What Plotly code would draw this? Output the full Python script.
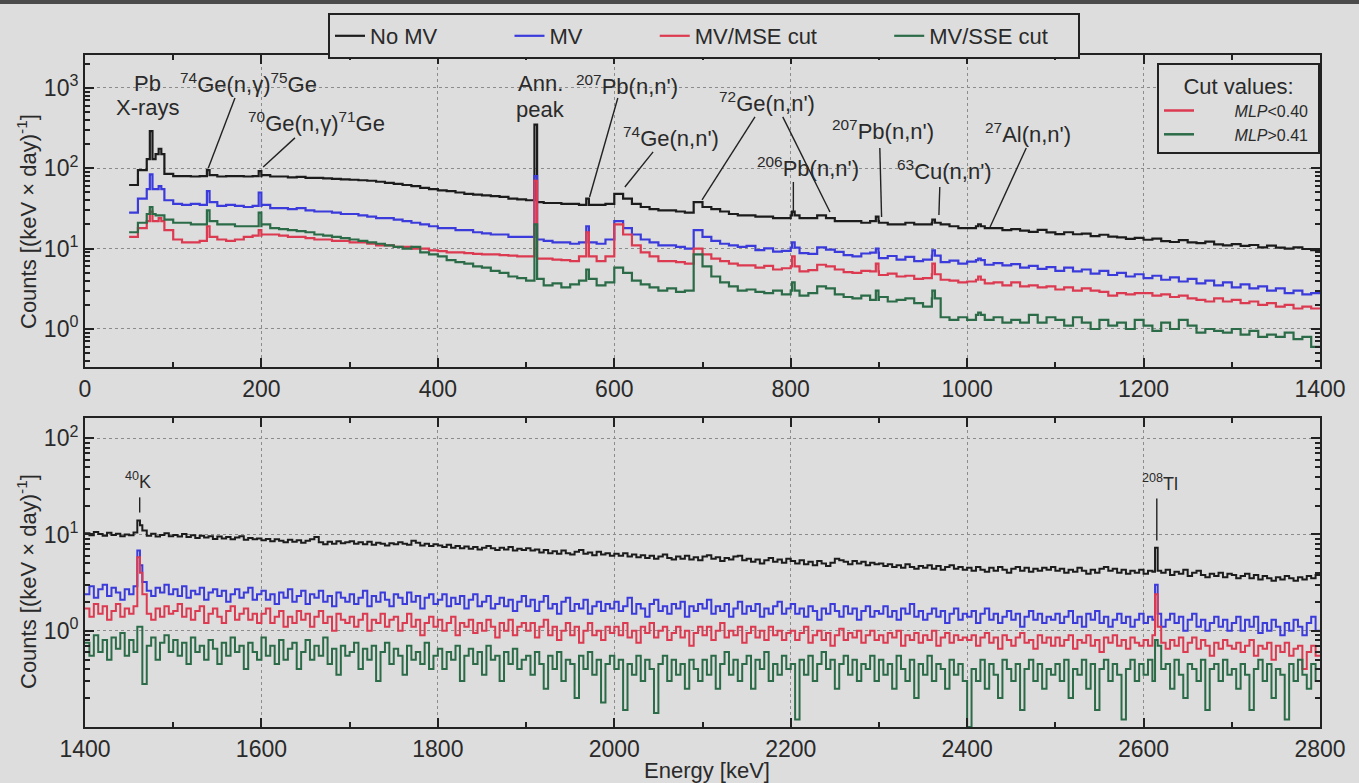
import math
import plotly.graph_objects as go

W, H = 1359, 783

# ---------------- spectrum data: counts / (keV x day) ----------------
TOP_BIN_KEV = 10
TOP_START_KEV = 50      # upper panel: 10 keV bins, 50 ... 1400 keV
BOT_BIN_KEV = 5
BOT_START_KEV = 1400    # lower panel: 5 keV bins, 1400 ... 2800 keV

SERIES_NAMES = ["No MV", "MV", "MV/MSE cut", "MV/SSE cut"]

top_no_mv = [
    62, 95, 130, 150, 85, 80, 80, 79, 80, 82,
    79, 80, 80, 79, 80, 82, 79, 79, 77, 78,
    76, 76, 75, 74, 73, 72, 71, 70, 68, 66,
    64, 62, 60, 57, 55, 53, 52, 50, 48, 47,
    46, 45, 44, 42, 41, 40, 38, 37, 37, 36,
    36, 35, 35, 35, 36, 48, 42, 36, 33, 31,
    30, 30, 29, 28, 38, 33, 31, 29, 27, 26,
    26, 25, 25, 24, 24, 26, 24, 24, 26, 24,
    22, 22, 22, 21, 22, 21, 20, 20, 21, 20,
    20, 21, 20, 19, 18, 18, 19, 18, 18, 17,
    17.5, 16.8, 16.2, 17.1, 15.9, 15.2, 16.0, 15.1, 15.4, 14.3,
    14.9, 14.1, 13.8, 13.2, 13.6, 12.9, 13.3, 12.4, 12.1, 12.8,
    12.0, 11.7, 12.2, 11.3, 11.0, 11.4, 10.8, 11.1, 10.4, 10.9,
    10.3, 10.0, 10.4, 9.9, 9.6,
]
top_mv = [
    28, 42, 55, 55, 40, 36, 35, 36, 35, 38,
    34, 35, 34, 33, 34, 35, 32, 32, 31, 32,
    30, 29, 29, 28, 27, 27, 26, 25, 24, 24,
    23, 22, 21, 20, 19, 18, 18, 17, 17, 16,
    15.5, 15, 15, 14, 14, 14, 13, 12.5, 12, 12,
    11.5, 12, 12, 11.5, 13, 22, 18, 15, 13, 12,
    11, 11, 10.5, 10, 17, 14, 12.5, 11.5, 11, 10.5,
    10.8, 9.6, 10.1, 9.2, 9.4, 10.3, 8.8, 8.6, 10.4, 9.7,
    9.1, 8.3, 8.0, 8.7, 8.9, 7.6, 8.1, 7.3, 7.9, 7.0,
    7.3, 8.2, 6.8, 7.1, 6.5, 6.9, 7.2, 6.3, 6.6, 6.2,
    6.4, 5.8, 6.1, 5.6, 5.9, 5.3, 5.8, 5.2, 5.5, 4.9,
    5.3, 4.7, 5.0, 4.5, 4.8, 4.3, 4.6, 4.1, 4.4, 3.9,
    4.2, 3.7, 4.0, 3.5, 3.8, 3.3, 3.6, 3.2, 3.4, 3.0,
    3.2, 2.8, 3.0, 2.7, 2.8,
]
top_mse = [
    14, 18, 22, 22, 17, 13, 12, 12, 12.5, 14,
    13, 12.5, 13, 14, 14.5, 15, 15, 14.5, 14, 14,
    13.5, 13, 13, 12.5, 12.5, 12, 12, 11.5, 11, 11,
    10.5, 10.5, 10, 10, 9.5, 9.3, 9, 9, 8.8, 8.6,
    8.5, 8.5, 8.3, 8.2, 8, 8, 7.5, 7.5, 7.3, 7.2,
    7, 8, 8, 7, 8, 20, 15, 11, 9, 8,
    7, 7, 6.8, 6.5, 10, 8.5, 7.5, 7, 6.5, 6.2,
    6.2, 5.8, 6.1, 5.5, 5.7, 6.0, 5.2, 5.4, 6.3, 6.0,
    5.5, 5.1, 5.0, 5.3, 5.2, 4.7, 4.9, 4.5, 4.6, 4.2,
    4.3, 4.8, 4.1, 4.0, 3.8, 3.9, 4.1, 3.7, 3.8, 3.5,
    3.8, 3.4, 3.5, 3.3, 3.4, 3.1, 3.3, 3.0, 3.2, 3.0,
    2.9, 2.6, 2.8, 2.7, 2.8, 2.8, 2.6, 2.7, 2.5, 2.6,
    2.4, 2.3, 2.2, 2.4, 2.2, 2.3, 2.1, 2.2, 2.0, 2.1,
    1.9, 2.0, 1.8, 1.9, 1.8,
]
top_sse = [
    16, 21, 27, 26, 23, 21, 21, 20, 20, 22,
    20, 20, 19, 19, 19, 20, 18, 17.5, 17, 16.5,
    16, 15, 14.5, 14, 13.5, 13, 12.5, 12, 11.5, 11,
    10.5, 10, 10.5, 9, 8.5, 8, 7.2, 6.8, 6.5, 6,
    5.8, 5.3, 5, 4.5, 4.3, 4, 4.2, 3.5, 3.7, 3.3,
    3.6, 4.0, 4.2, 3.5, 3.8, 5.8, 5, 4, 3.6, 3.3,
    3, 3.2, 2.9, 3, 8.5, 6, 4.5, 3.8, 3.4, 3,
    3.1, 2.9, 2.8, 3, 2.7, 3, 2.6, 2.8, 3.4, 3.2,
    2.7, 2.5, 2.4, 2.6, 2.3, 2.5, 2.2, 2.3, 2.4, 2.1,
    1.9, 2.4, 1.4, 1.3, 1.4, 1.3, 1.5, 1.3, 1.4, 1.2,
    1.3, 1.2, 1.5, 1.2, 1.4, 1.3, 1.1, 1.4, 1.2, 1.0,
    1.3, 1.1, 1.2, 1.0, 1.3, 1.1, 0.95, 1.2, 1.0, 1.3,
    1.1, 0.9, 1.0, 0.95, 0.9, 1.0, 0.85, 0.95, 0.8, 0.85,
    0.8, 0.9, 0.75, 0.8, 0.6,
]

# narrow gamma / x-ray lines in the upper panel (keV) and their heights
TOP_PEAK_KEV = [75, 85, 139.7, 198.4, 511, 569.7, 803, 898, 962, 1014]
top_peak_no_mv = [290, 175, 95, 92, 350, 42, 29, 25, 23, 20]
top_peak_mv = [84, 60, 52, 50, 80, 19, 12, 10, 9.5, 7.5]
top_peak_mse = [29, 24, 19, 17, 70, 16, 8, 6.5, 6.5, 4.5]
top_peak_sse = [33, 26, 30, 28, 20, 5.5, 3.8, 3.0, 3.0, 1.6]
TOP_PEAK_WIDTH_KEV = 3

# lower panel, one row = 100 keV
bot_no_mv = [
    10.3, 9.8, 10.6, 10.1, 9.7, 10.4, 9.9, 10.2, 9.6, 10.0, 9.8, 10.5, 12.5, 11.0, 9.7, 10.2, 9.5, 9.9, 10.3, 9.6,
    9.9, 9.5, 10.1, 9.4, 9.8, 9.2, 9.7, 9.3, 9.6, 9.0, 9.5, 9.1, 9.4, 8.9, 9.3, 9.6, 8.8, 9.2, 8.9, 9.1,
    8.7, 9.0, 8.5, 8.9, 8.6, 8.3, 8.8, 8.4, 8.7, 8.2, 8.6, 8.9, 9.4, 8.3, 7.9, 8.4, 8.0, 8.5, 8.1, 8.3,
    8.5, 8.0, 8.3, 7.9, 8.4, 7.8, 8.2, 8.0, 7.7, 8.1, 7.9, 8.3, 8.0, 7.8, 8.6, 8.2, 7.7, 8.0, 7.6, 7.9,
    7.7, 7.4, 7.8, 7.3, 7.6, 7.2, 7.5, 7.1, 7.4, 7.0, 7.3, 7.6, 7.2, 6.9, 7.3, 7.0, 7.4, 6.8, 7.1, 6.9,
    7.2, 6.8, 7.0, 6.5, 6.9, 6.4, 6.7, 6.3, 6.8, 6.4, 6.2, 6.6, 6.9, 6.3, 6.5, 6.1, 6.6, 6.2, 6.4, 6.0,
    6.3, 6.0, 6.4, 5.9, 6.2, 5.8, 6.1, 5.7, 6.0, 5.6, 5.9, 6.2, 5.7, 5.5, 5.9, 5.6, 6.0, 5.5, 5.8, 5.4,
    5.9, 6.1, 5.6, 5.8, 5.3, 5.7, 5.5, 5.9, 6.0, 5.4, 5.6, 5.2, 5.5, 5.0, 5.4, 5.7, 5.2, 5.5, 5.1, 5.6,
    5.3, 5.0, 5.4, 4.9, 5.2, 4.8, 5.3, 5.0, 4.7, 5.1, 5.6, 5.4, 5.2, 4.9, 5.3, 5.0, 5.2, 4.8, 5.1, 4.9,
    5.0, 4.7, 4.9, 4.6, 4.8, 4.5, 4.9, 4.6, 4.4, 4.7, 4.5, 4.8, 4.4, 4.7, 4.3, 4.6, 4.8, 4.4, 4.6, 4.3,
    4.5, 4.2, 4.6, 4.3, 4.1, 4.5, 4.2, 4.6, 4.3, 4.0, 4.4, 4.6, 4.2, 4.5, 4.1, 4.4, 4.2, 4.5, 4.3, 4.6,
    4.2, 4.4, 4.0, 4.3, 4.1, 4.5, 4.2, 3.9, 4.3, 4.0, 4.4, 4.6, 4.2, 4.4, 4.0, 4.3, 3.9, 4.2, 4.0, 4.3,
    3.9, 4.2, 4.1, 4.2, 4.0, 4.3, 3.8, 4.1, 3.9, 4.3, 3.7, 4.0, 4.2, 3.8, 3.6, 3.9, 3.7, 4.0, 3.6, 3.9,
    3.8, 3.5, 3.7, 3.9, 3.5, 3.8, 3.4, 3.7, 3.5, 3.3, 3.6, 3.4, 3.7, 3.5, 3.3, 3.6, 3.4, 3.7, 3.5, 3.8,
]
bot_mv = [
    2.4, 2.9, 2.2, 2.7, 3.0, 2.3, 2.8, 2.5, 2.1, 2.7, 2.4, 2.9, 4.8, 3.2, 2.6, 2.3, 2.8, 2.5, 3.0, 2.4,
    2.7, 2.3, 2.9, 2.2, 2.6, 2.4, 2.8, 2.1, 2.5, 2.7, 2.3, 2.6, 2.0, 2.4, 2.7, 2.2, 2.5, 2.8, 2.1, 2.4,
    2.6, 2.1, 2.4, 1.9, 2.5, 2.2, 2.7, 2.0, 2.3, 2.6, 1.9, 2.4, 2.2, 2.6, 2.0, 2.3, 1.8, 2.5, 2.2, 2.0,
    2.4, 1.9, 2.2, 2.6, 1.8, 2.3, 2.0, 2.5, 2.1, 1.8, 2.4, 2.2, 1.9, 2.5, 2.0, 2.3, 1.7, 2.2, 2.4, 1.9,
    2.1, 2.4, 1.8, 2.2, 1.9, 2.3, 1.7, 2.1, 2.4, 1.8, 2.0, 2.3, 1.7, 1.9, 2.2, 1.8, 2.1, 1.6, 2.0, 2.3,
    1.8, 2.1, 1.6, 2.0, 2.3, 1.7, 1.9, 1.5, 2.0, 2.2, 1.6, 1.9, 1.7, 2.1, 1.5, 1.8, 2.0, 1.6, 1.9, 1.7,
    2.0, 1.6, 1.8, 2.2, 1.5, 1.9, 1.7, 1.4, 1.9, 2.1, 1.6, 1.8, 1.5, 1.9, 1.7, 2.0, 1.4, 1.8, 1.6, 1.9,
    1.7, 2.1, 1.5, 1.8, 1.6, 1.9, 1.4, 1.7, 2.0, 1.5, 1.8, 1.6, 1.9, 1.4, 1.7, 1.5, 1.8, 2.0, 1.5, 1.7,
    1.9, 1.5, 1.7, 1.4, 1.8, 1.6, 1.3, 1.7, 1.5, 1.9, 1.6, 1.4, 1.8, 1.5, 1.7, 1.3, 1.6, 1.8, 1.4, 1.6,
    1.5, 1.8, 1.4, 1.6, 1.3, 1.7, 1.5, 1.9, 1.4, 1.6, 1.3, 1.5, 1.7, 1.4, 1.6, 1.2, 1.5, 1.7, 1.3, 1.5,
    1.4, 1.6, 1.2, 1.5, 1.7, 1.3, 1.5, 1.2, 1.4, 1.6, 1.3, 1.5, 1.1, 1.4, 1.6, 1.3, 1.5, 1.2, 1.4, 1.3,
    1.5, 1.2, 1.4, 1.6, 1.2, 1.4, 1.1, 1.5, 1.3, 1.6, 1.2, 1.4, 1.1, 1.3, 1.5, 1.2, 1.4, 1.1, 1.3, 1.5,
    1.2, 1.4, 1.3, 1.5, 1.1, 1.3, 1.5, 1.2, 1.4, 1.0, 1.3, 1.5, 1.1, 1.3, 1.0, 1.2, 1.4, 1.1, 1.3, 1.0,
    1.2, 1.4, 1.0, 1.3, 1.1, 1.4, 0.95, 1.2, 1.0, 1.3, 1.1, 0.9, 1.2, 1.0, 1.3, 1.1, 0.9, 1.2, 1.4, 1.0,
]
bot_mse = [
    1.7, 1.4, 1.9, 1.5, 1.8, 1.3, 1.6, 1.9, 1.4, 1.7, 1.5, 1.8, 4.0, 2.4, 1.5, 1.3, 1.7, 1.4, 1.8, 1.5,
    1.6, 1.9, 1.4, 1.7, 1.3, 1.6, 1.8, 1.2, 1.5, 1.7, 1.4, 1.2, 1.6, 1.8, 1.3, 1.5, 1.7, 1.3, 1.5, 1.2,
    1.5, 1.7, 1.2, 1.4, 1.6, 1.1, 1.4, 1.2, 1.6, 1.3, 1.5, 1.1, 1.4, 1.6, 1.2, 1.4, 1.0, 1.5, 1.3, 1.2,
    1.4, 1.1, 1.3, 1.5, 1.0, 1.3, 1.2, 1.5, 1.1, 1.3, 1.4, 1.0, 1.2, 1.5, 1.1, 1.3, 0.9, 1.2, 1.4, 1.1,
    1.3, 1.0, 1.2, 1.4, 0.9, 1.2, 1.1, 1.3, 0.95, 1.2, 1.0, 1.3, 1.1, 0.85, 1.2, 1.0, 1.3, 0.9, 1.1, 1.2,
    1.0, 1.2, 0.85, 1.1, 1.3, 0.9, 1.1, 0.8, 1.0, 1.2, 0.9, 1.1, 0.75, 1.0, 1.2, 0.9, 1.0, 0.8, 1.1, 0.95,
    1.1, 0.9, 1.2, 0.85, 1.0, 0.75, 1.1, 0.95, 1.2, 0.85, 1.0, 1.1, 0.8, 0.95, 1.1, 0.85, 1.0, 0.7, 0.95, 1.1,
    0.9, 1.1, 0.8, 1.0, 1.2, 0.85, 1.0, 0.9, 1.1, 0.75, 0.95, 1.1, 0.85, 1.0, 0.8, 1.1, 0.9, 1.0, 0.8, 0.95,
    1.0, 0.8, 0.95, 1.1, 0.75, 0.9, 1.0, 0.8, 0.95, 0.7, 0.9, 1.05, 0.8, 0.95, 0.85, 1.0, 0.75, 0.9, 1.0, 0.8,
    0.9, 0.75, 0.95, 0.85, 1.0, 0.7, 0.9, 0.8, 0.95, 0.75, 0.9, 0.8, 1.0, 0.7, 0.85, 0.95, 0.75, 0.9, 0.8, 0.85,
    0.8, 0.9, 0.7, 0.85, 0.95, 0.75, 0.85, 0.65, 0.9, 0.8, 0.7, 0.85, 0.95, 0.75, 0.8, 0.65, 0.9, 0.75, 0.85, 0.7,
    0.85, 0.7, 0.8, 0.9, 0.65, 0.8, 0.75, 0.9, 0.7, 0.8, 0.6, 0.85, 0.75, 0.9, 0.7, 0.8, 0.65, 0.85, 0.75, 0.7,
    0.8, 0.7, 0.9, 1.1, 0.75, 0.65, 0.8, 0.7, 0.85, 0.6, 0.75, 0.85, 0.65, 0.8, 0.7, 0.55, 0.75, 0.65, 0.8, 0.7,
    0.65, 0.75, 0.6, 0.7, 0.8, 0.55, 0.7, 0.65, 0.75, 0.5, 0.7, 0.6, 0.75, 0.55, 0.65, 0.7, 0.4, 0.6, 0.7, 0.55,
]
bot_sse = [
    0.75, 0.55, 0.9, 0.6, 0.8, 0.5, 0.85, 0.65, 0.95, 0.55, 0.8, 0.6, 1.1, 0.28, 0.7, 0.85, 0.5, 0.75, 0.9, 0.6,
    0.8, 0.55, 0.75, 0.45, 0.85, 0.6, 0.7, 0.5, 0.8, 0.65, 0.45, 0.75, 0.55, 0.85, 0.6, 0.7, 0.4, 0.75, 0.6, 0.5,
    0.85, 0.55, 0.7, 0.45, 0.8, 0.5, 0.65, 0.75, 0.4, 0.6, 0.8, 0.5, 0.7, 0.55, 0.85, 0.45, 0.65, 0.35, 0.7, 0.55,
    0.6, 0.75, 0.4, 0.65, 0.5, 0.7, 0.3, 0.6, 0.75, 0.45, 0.65, 0.55, 0.35, 0.7, 0.5, 0.6, 0.45, 0.75, 0.4, 0.55,
    0.65, 0.4, 0.6, 0.5, 0.7, 0.3, 0.55, 0.65, 0.45, 0.6, 0.35, 0.7, 0.5, 0.55, 0.3, 0.6, 0.45, 0.65, 0.4, 0.5,
    0.55, 0.35, 0.6, 0.45, 0.25, 0.55, 0.4, 0.6, 0.3, 0.5, 0.45, 0.2, 0.55, 0.4, 0.6, 0.35, 0.5, 0.18, 0.45, 0.55,
    0.4, 0.5, 0.15, 0.45, 0.35, 0.55, 0.3, 0.5, 0.4, 0.14, 0.45, 0.55, 0.3, 0.5, 0.35, 0.45, 0.25, 0.5, 0.4, 0.3,
    0.5, 0.35, 0.55, 0.25, 0.45, 0.6, 0.35, 0.5, 0.3, 0.45, 0.55, 0.25, 0.5, 0.4, 0.6, 0.3, 0.45, 0.35, 0.55, 0.4,
    0.45, 0.12, 0.5, 0.35, 0.55, 0.3, 0.45, 0.6, 0.4, 0.5, 0.25, 0.45, 0.55, 0.35, 0.5, 0.3, 0.45, 0.4, 0.55, 0.3,
    0.5, 0.35, 0.45, 0.25, 0.55, 0.4, 0.3, 0.5, 0.2, 0.45, 0.35, 0.55, 0.3, 0.45, 0.4, 0.25, 0.5, 0.35, 0.45, 0.3,
    0.1, 0.4, 0.3, 0.5, 0.25, 0.45, 0.35, 0.2, 0.5, 0.4, 0.3, 0.45, 0.15, 0.4, 0.5, 0.3, 0.45, 0.25, 0.4, 0.35,
    0.45, 0.3, 0.5, 0.2, 0.4, 0.35, 0.5, 0.25, 0.45, 0.15, 0.4, 0.5, 0.3, 0.45, 0.35, 0.12, 0.4, 0.5, 0.3, 0.45,
    0.35, 0.5, 0.3, 0.7, 0.4, 0.45, 0.25, 0.5, 0.35, 0.2, 0.45, 0.4, 0.3, 0.5, 0.15, 0.4, 0.45, 0.3, 0.5, 0.35,
    0.4, 0.25, 0.45, 0.35, 0.15, 0.4, 0.5, 0.3, 0.45, 0.2, 0.4, 0.35, 0.12, 0.45, 0.3, 0.5, 0.35, 0.25, 0.45, 0.3,
]

# 40K and 208Tl lines in the lower panel
BOT_PEAK_KEV = [1460.8, 2614.5]
bot_peak_no_mv = [14, 7.3]
bot_peak_mv = [6.8, 3.0]
bot_peak_mse = [5.8, 2.4]
bot_peak_sse = [1.1, 0.8]
BOT_PEAK_WIDTH_KEV = 3

# ---------------- labels of identified lines ----------------
# (text, label energy [keV], label height [counts])
TOP_LABELS = [
    ("Pb", 71.4, 1122),
    ("X-rays", 71.4, 564),
    ("<sup>74</sup>Ge(n,γ)<sup>75</sup>Ge", 184.8, 1153),
    ("<sup>70</sup>Ge(n,γ)<sup>71</sup>Ge", 261.9, 378),
    ("Ann.", 515.8, 1122),
    ("peak", 515.8, 532),
    ("<sup>207</sup>Pb(n,n')", 614.4, 1089),
    ("<sup>74</sup>Ge(n,n')", 664.3, 246),
    ("<sup>72</sup>Ge(n,n')", 773.1, 670),
    ("<sup>206</sup>Pb(n,n')", 819.6, 104),
    ("<sup>207</sup>Pb(n,n')", 904.6, 300),
    ("<sup>63</sup>Cu(n,n')", 973.8, 95.4),
    ("<sup>27</sup>Al(n,n')", 1069, 275),
]
# leader lines: (from keV, from counts, to keV, to counts)
TOP_LEADERS = [
    (170.0, 751, 139.7, 100),
    (238, 239, 202, 104),
    (604, 751, 572, 44),
    (644, 160, 612, 58.6),
    (759.5, 436, 699.5, 40.4),
    (791, 436, 844.5, 28.6),
    (803, 67.6, 803, 27.8),
    (901, 179, 903, 24.8),
    (969, 58.6, 968, 26.2),
    (1067, 179, 1026, 18.6),
]
BOT_LABELS = [
    ("<sup>40</sup>K", 1460, 36.5),
    ("<sup>208</sup>Tl", 2618.6, 34.7),
]
BOT_LEADERS = [
    (1462, 24.3, 1462, 16.9),
    (2615, 23.7, 2615, 8.66),
]

# ---------------- styling ----------------
BG = "#dddddd"
FRAME = "#222222"
GRID = "#8c8c8c"
TEXT = "#2a2a2a"
COLORS = ["#1c1c1c", "#3b3bdc", "#dc3a50", "#2b6b47"]
FONT = "Liberation Sans, Arial, Helvetica, sans-serif"
NB = "\u00a0"
LEGEND_TAIL = [NB * 11, NB * 11, NB * 11, NB * 4]   # spacing between legend entries


def step_xy(start, width, vals, peaks, heights, pw):
    """Histogram outline with narrow peak bins laid on top of the regular bins."""
    edges = [start + width * i for i in range(len(vals) + 1)]
    cuts = set(edges)
    for p in peaks:
        cuts.add(p - pw / 2)
        cuts.add(p + pw / 2)
    cuts = sorted(c for c in cuts if edges[0] <= c <= edges[-1])
    xs, ys = [], []
    for a, b in zip(cuts[:-1], cuts[1:]):
        mid = 0.5 * (a + b)
        val = None
        for p, h in zip(peaks, heights):
            if p - pw / 2 <= mid < p + pw / 2:
                val = h
        if val is None:
            val = vals[min(int((mid - start) // width), len(vals) - 1)]
        xs.append(a)
        ys.append(val)
    xs.append(cuts[-1])
    ys.append(ys[-1])
    return xs, ys


fig = go.Figure()

top_sets = [
    (top_no_mv, top_peak_no_mv),
    (top_mv, top_peak_mv),
    (top_mse, top_peak_mse),
    (top_sse, top_peak_sse),
]
for name, tail, color, (vals, pk) in zip(SERIES_NAMES, LEGEND_TAIL, COLORS, top_sets):
    xs, ys = step_xy(TOP_START_KEV, TOP_BIN_KEV, vals, TOP_PEAK_KEV, pk, TOP_PEAK_WIDTH_KEV)
    fig.add_trace(go.Scatter(
        x=xs, y=ys, mode="lines", name=name + tail,
        line=dict(color=color, width=2.2, shape="hv"),
        xaxis="x", yaxis="y", legend="legend",
    ))

bot_sets = [
    (bot_no_mv, bot_peak_no_mv),
    (bot_mv, bot_peak_mv),
    (bot_mse, bot_peak_mse),
    (bot_sse, bot_peak_sse),
]
for name, color, (vals, pk) in zip(SERIES_NAMES, COLORS, bot_sets):
    xs, ys = step_xy(BOT_START_KEV, BOT_BIN_KEV, vals, BOT_PEAK_KEV, pk, BOT_PEAK_WIDTH_KEV)
    fig.add_trace(go.Scatter(
        x=xs, y=ys, mode="lines", name=name, showlegend=False,
        line=dict(color=color, width=2, shape="hv"),
        xaxis="x2", yaxis="y2",
    ))

# entries of the cut-value box
for label, color in [("<i>MLP</i>&lt;0.40", COLORS[2]), ("<i>MLP</i>&gt;0.41", COLORS[3])]:
    fig.add_trace(go.Scatter(
        x=[None], y=[None], mode="lines", name=NB * 8 + label + NB,
        line=dict(color=color, width=2.5),
        xaxis="x", yaxis="y", legend="legend2",
    ))

x_dom = [85 / W, 1320 / W]
axis_common = dict(
    automargin=False,
    showline=True, linecolor=FRAME, linewidth=2, mirror="allticks",
    ticks="inside", ticklen=9, tickwidth=1.5, tickcolor=FRAME,
    showgrid=True, gridcolor=GRID, gridwidth=1, griddash="dot",
    zeroline=False, tickfont=dict(size=23, color=TEXT, family=FONT),
)
minor_x = dict(dtick=100, ticks="inside", ticklen=5, tickcolor=FRAME, showgrid=False)


def log_minor(lo, hi):
    vals = []
    for e in range(lo, hi + 1):
        for m in range(2, 10):
            vals.append(m * 10 ** e)
    return dict(tickmode="array", tickvals=vals, ticks="inside", ticklen=5,
                tickcolor=FRAME, showgrid=False)


fig.update_layout(
    width=W, height=H,
    margin=dict(l=0, r=0, t=0, b=0, autoexpand=False),
    paper_bgcolor=BG, plot_bgcolor=BG,
    font=dict(family=FONT, size=22, color=TEXT),
    xaxis=dict(domain=x_dom, range=[0, 1400], anchor="y",
               tick0=0, dtick=200, minor=minor_x, **axis_common),
    yaxis=dict(domain=[1 - 367 / H, 1 - 55 / H], type="log", range=[-0.473, 3.41],
               anchor="x", tickmode="array", tickvals=[1, 10, 100, 1000],
               ticktext=["10<sup>0</sup>", "10<sup>1</sup>", "10<sup>2</sup>", "10<sup>3</sup>"],
               minor=log_minor(-1, 3), **axis_common),
    xaxis2=dict(domain=x_dom, range=[1400, 2800], anchor="y2",
                tick0=1400, dtick=200, minor=minor_x, **axis_common),
    yaxis2=dict(domain=[1 - 727 / H, 1 - 418 / H], type="log", range=[-1.0, 2.21],
                anchor="x2", tickmode="array", tickvals=[1, 10, 100],
                ticktext=["10<sup>0</sup>", "10<sup>1</sup>", "10<sup>2</sup>"],
                minor=log_minor(-1, 2), **axis_common),
    legend=dict(
        orientation="h", x=328 / W, y=1 - 13 / H, xanchor="left", yanchor="top",
        bgcolor=BG, bordercolor=FRAME, borderwidth=2,
        font=dict(size=22, color=TEXT, family=FONT), itemwidth=30,
    ),
    legend2=dict(
        x=1157 / W, y=1 - 63 / H, xanchor="left", yanchor="top",
        bgcolor=BG, bordercolor=FRAME, borderwidth=2,
        font=dict(size=16, color=TEXT, family=FONT), itemwidth=30,
        title=dict(text="Cut values:", side="top center",
                   font=dict(size=22, color=TEXT, family=FONT)),
    ),
)

annotations = []
for text, e, v in TOP_LABELS:
    annotations.append(dict(text=text, x=e, y=math.log10(v), xref="x", yref="y",
                            xanchor="center", yanchor="middle",
                            showarrow=False, font=dict(size=22, color=TEXT)))
for text, e, v in BOT_LABELS:
    annotations.append(dict(text=text, x=e, y=math.log10(v), xref="x2", yref="y2",
                            xanchor="center", yanchor="middle",
                            showarrow=False, font=dict(size=18, color=TEXT)))
ytitle = "Counts [(keV × day)<sup>-1</sup>]"
for yc in (222, 582):
    annotations.append(dict(text=ytitle, x=27 / W, y=1 - yc / H, xref="paper", yref="paper",
                            xanchor="center", yanchor="middle",
                            textangle=-90, showarrow=False, font=dict(size=22, color=TEXT)))
annotations.append(dict(text="Energy [keV]", x=707 / W, y=1 - 770 / H, xref="paper", yref="paper",
                        xanchor="center", yanchor="middle",
                        showarrow=False, font=dict(size=22, color=TEXT)))
fig.update_layout(annotations=annotations)

# leader lines: shape coordinates on log axes are given in data units
shapes = []
for e0, v0, e1, v1 in TOP_LEADERS:
    shapes.append(dict(type="line", xref="x", yref="y", x0=e0, y0=v0, x1=e1, y1=v1,
                       line=dict(color=FRAME, width=1.4)))
for e0, v0, e1, v1 in BOT_LEADERS:
    shapes.append(dict(type="line", xref="x2", yref="y2", x0=e0, y0=v0, x1=e1, y1=v1,
                       line=dict(color=FRAME, width=1.4)))
# dark strip along the top edge
shapes.append(dict(type="rect", xref="paper", yref="paper", x0=0, x1=1, y0=1 - 4 / H, y1=1,
                   fillcolor="#4b4b4b", line=dict(width=0), layer="above"))
fig.update_layout(shapes=shapes)

fig.write_html("out.html")
